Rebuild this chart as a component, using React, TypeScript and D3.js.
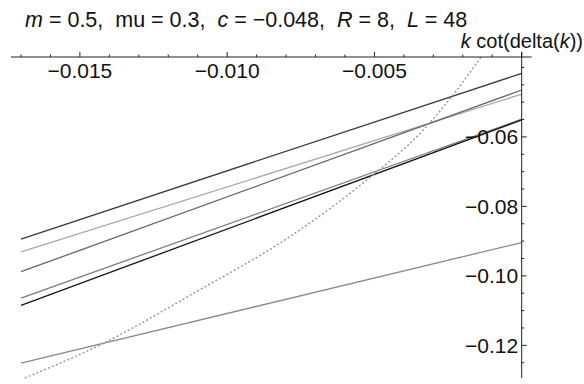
import {useEffect, useRef} from "react";
import * as d3 from "d3";

// x positions of the straight lines (both ends)
const lineX = [-0.017, 0];

// straight lines, value at left end and at right end
const lineA = [-0.0894, -0.0417];
const lineB = [-0.0931, -0.0477];
const lineC = [-0.0988, -0.0465];
const lineD = [-0.1064, -0.0549];
const lineE = [-0.1085, -0.0551];
const lineF = [-0.1251, -0.0904];

// dotted curve
const curveX = [-0.01687, -0.01432, -0.01093, -0.00787, -0.00526, -0.00334, -0.00233, -0.00138];
const curveY = [-0.1294, -0.1199, -0.1040, -0.0887, -0.0724, -0.0580, -0.0479, -0.0370];

const xMajor = [-0.015, -0.010, -0.005];
const xMinor = [-0.017, -0.016, -0.014, -0.013, -0.012, -0.011, -0.009, -0.008, -0.007, -0.006, -0.004, -0.003, -0.002, -0.001];
const yMajor = [-0.06, -0.08, -0.10, -0.12];
const yMinor = [-0.04, -0.045, -0.05, -0.055, -0.065, -0.07, -0.075, -0.085, -0.09, -0.095, -0.105, -0.11, -0.115, -0.125];

const lineColors = ["#3a3a3a", "#a9a9a9", "#666666", "#7c7c7c", "#141414", "#8a8a8a"];

function App() {

    const ref = useRef(null);

    useEffect(() => {
        const width = 584, height = 384;
        const svg = d3.select(ref.current)
            .attr("width", width)
            .attr("height", height);
        svg.selectAll("*").remove();

        const x = d3.scaleLinear().domain([-0.017, 0]).range([21, 521.7]);
        const y = d3.scaleLinear().domain([-0.037, -0.1294]).range([57, 378]);

        const font = "'Liberation Sans', Arial, Helvetica, sans-serif";

        svg.append("clipPath").attr("id", "plotclip")
            .append("rect")
            .attr("x", 11).attr("y", 52).attr("width", 521).attr("height", 327);

        const plot = svg.append("g").attr("clip-path", "url(#plotclip)");

        const line = d3.line()
            .x(d => x(d[0]))
            .y(d => y(d[1]));

        const lines = [lineA, lineB, lineC, lineD, lineE, lineF];
        lines.forEach((vals, i) => {
            plot.append("path")
                .attr("d", line(lineX.map((xv, j) => [xv, vals[j]])))
                .attr("fill", "none")
                .attr("stroke", lineColors[i])
                .attr("stroke-width", 1.3);
        });

        const curve = d3.line()
            .x(d => x(d[0]))
            .y(d => y(d[1]))
            .curve(d3.curveMonotoneX);

        plot.append("path")
            .attr("d", curve(curveX.map((xv, j) => [xv, curveY[j]])))
            .attr("fill", "none")
            .attr("stroke", "#9a9a9a")
            .attr("stroke-width", 1.5)
            .attr("stroke-dasharray", "2,2.2");

        // axes
        const axisY = y(-0.037);
        const axisX = x(0);
        const ax = svg.append("g").attr("stroke", "#222").attr("stroke-width", 1);

        ax.append("line")
            .attr("x1", 11).attr("x2", 531.7)
            .attr("y1", axisY).attr("y2", axisY);
        ax.append("line")
            .attr("x1", axisX).attr("x2", axisX)
            .attr("y1", 51.7).attr("y2", 378);

        xMajor.concat([0]).forEach(v => {
            ax.append("line").attr("x1", x(v)).attr("x2", x(v))
                .attr("y1", axisY).attr("y2", axisY - 5);
        });
        xMinor.forEach(v => {
            ax.append("line").attr("x1", x(v)).attr("x2", x(v))
                .attr("y1", axisY).attr("y2", axisY - 2.5);
        });
        yMajor.forEach(v => {
            ax.append("line").attr("x1", axisX).attr("x2", axisX + 5)
                .attr("y1", y(v)).attr("y2", y(v));
        });
        yMinor.forEach(v => {
            ax.append("line").attr("x1", axisX).attr("x2", axisX + 2.5)
                .attr("y1", y(v)).attr("y2", y(v));
        });

        const fmtX = d3.format(".3f");
        const fmtY = d3.format(".2f");

        svg.selectAll("xlab")
            .data(xMajor)
            .enter()
            .append("text")
            .attr("x", d => x(d))
            .attr("y", axisY + 21)
            .attr("text-anchor", "middle")
            .style("font-family", font)
            .style("font-size", "21px")
            .attr("fill", "#111")
            .text(d => fmtX(d));

        svg.selectAll("ylab")
            .data(yMajor)
            .enter()
            .append("text")
            .attr("x", axisX - 3.5)
            .attr("y", d => y(d) + 7.5)
            .attr("text-anchor", "end")
            .style("font-family", font)
            .style("font-size", "21px")
            .attr("fill", "#111")
            .text(d => fmtY(d));

        // axis label
        const lab = svg.append("text")
            .attr("x", 583)
            .attr("y", 48)
            .attr("text-anchor", "end")
            .style("font-family", font)
            .style("font-size", "20px")
            .attr("fill", "#111");
        lab.append("tspan").style("font-style", "italic").text("k");
        lab.append("tspan").text(" cot(delta(");
        lab.append("tspan").style("font-style", "italic").text("k");
        lab.append("tspan").text("))");

        // title
        const title = svg.append("text")
            .attr("x", 25)
            .attr("y", 27)
            .style("font-family", font)
            .style("font-size", "21.5px")
            .attr("fill", "#111")
            .attr("xml:space", "preserve");
        const parts = [
            ["m", true], [" = 0.5,  mu = 0.3,  ", false],
            ["c", true], [" = \u22120.048,  ", false],
            ["R", true], [" = 8,  ", false],
            ["L", true], [" = 48", false]
        ];
        parts.forEach(p => {
            title.append("tspan")
                .style("font-style", p[1] ? "italic" : "normal")
                .style("white-space", "pre")
                .text(p[0]);
        });

    }, []);

    return <svg ref={ref} style={{position: "absolute", left: 0, top: 0}}></svg>
}

export default App;
